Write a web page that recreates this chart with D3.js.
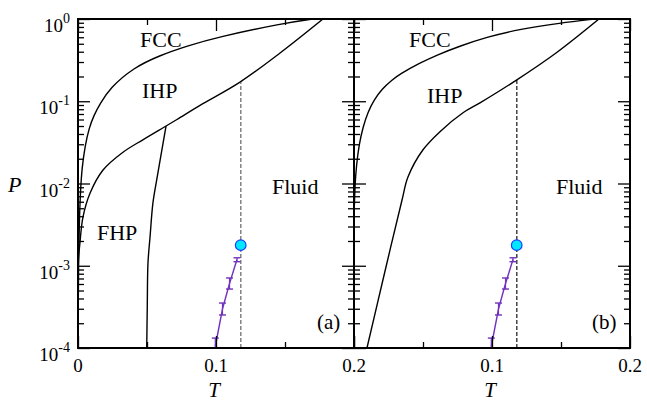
<!DOCTYPE html>
<html>
<head>
<meta charset="utf-8">
<script src="https://cdn.jsdelivr.net/npm/d3@7"></script>
<style>
  body { margin: 0; background: #fff; }
  text { font-family: "Liberation Serif", "Times New Roman", serif; fill: #000; }
</style>
</head>
<body>
<div id="chart"></div>
<script>
  var width = 647,
      height = 405,
      yTop = 19,
      yBot = 348;

  // phase boundaries, [T, P]
  var fccA = [[0.0001, 1.0e-4], [0.0002, 3.8e-4], [0.0004, 1.17e-3], [0.00094, 3.4e-3], [0.0018, 8.3e-3],
              [0.0029, 0.0155], [0.0051, 0.0286], [0.0080, 0.0473], [0.0116, 0.068], [0.0159, 0.0927],
              [0.0232, 0.145], [0.0399, 0.254], [0.059, 0.36], [0.079, 0.47], [0.1007, 0.60],
              [0.1486, 0.89], [0.170, 1.0]];
  var ihpA = [[0.0001, 7.8e-4], [0.0004, 1.23e-3], [0.0014, 1.9e-3], [0.0036, 3.9e-3], [0.0087, 7.6e-3],
              [0.018, 0.0145], [0.0326, 0.024], [0.047, 0.034], [0.0638, 0.050], [0.0717, 0.060],
              [0.0884, 0.089], [0.1174, 0.171], [0.1464, 0.386], [0.1775, 1.0]];
  var fhpA = [[0.0498, 1.0e-4], [0.0502, 3.2e-4], [0.0507, 1.07e-3], [0.0522, 2.24e-3],
              [0.0543, 5.8e-3], [0.0570, 0.0110], [0.0638, 0.050]];
  var fccB = [[0.0003, 5.5e-3], [0.0007, 9.6e-3], [0.0018, 0.0168], [0.0036, 0.0294], [0.0065, 0.0486],
              [0.0101, 0.074], [0.0145, 0.1035], [0.0203, 0.141], [0.0275, 0.181], [0.0333, 0.214],
              [0.0478, 0.292], [0.0601, 0.365], [0.0768, 0.470], [0.0964, 0.604], [0.1203, 0.755],
              [0.1493, 0.894], [0.1746, 1.0]];
  var ihpB = [[0.0094, 1.0e-4], [0.0221, 8.1e-4], [0.0348, 6.3e-3], [0.0391, 0.012], [0.050, 0.0257],
              [0.0623, 0.0427], [0.079, 0.0724], [0.0913, 0.0955], [0.118, 0.182], [0.1464, 0.386],
              [0.1775, 1.0]];

  // liquid-gas coexistence with error bars, and critical point
  var critT  = [0.0995, 0.1047, 0.1098, 0.1152];
  var critP  = [1.05e-4, 2.98e-4, 6.08e-4, 1.19e-3];
  var critLo = [8.3e-5, 2.52e-4, 5.21e-4, 1.12e-3];
  var critHi = [1.32e-4, 3.52e-4, 7.10e-4, 1.25e-3];
  var cpT = 0.1179, cpP = 1.78e-3;
  var dashT = 0.118;
  var dashTopA = 0.172, dashTopB = 0.182;

  var tMajor = [0, 0.1, 0.2],
      tMinor = [0.05, 0.15],
      pExp = [0, -1, -2, -3, -4];

  var panels = [
    {x0: 78, fcc: fccA, ihp: ihpA, fhp: fhpA, dashTop: dashTopA, dashCol: "#555", tag: "(a)", tagX: 317,
     tLabels: [0, 0.1, 0.2],
     labels: [["FCC", 140, 47], ["IHP", 142, 98], ["FHP", 97, 240], ["Fluid", 272, 194]]},
    {x0: 354, fcc: fccB, ihp: ihpB, fhp: null, dashTop: dashTopB, dashCol: "#000", tag: "(b)", tagX: 592,
     tLabels: [0.1, 0.2],
     labels: [["FCC", 409, 47], ["IHP", 427, 103], ["Fluid", 556, 194]]}
  ];

  var svg = d3.select("#chart").append("svg")
    .attr("width", width)
    .attr("height", height);

  var y = d3.scaleLog().domain([1e-4, 1]).range([yBot, yTop]);

  var pMinor = [];
  pExp.forEach(function(e) {
    if (e < 0) for (var k = 2; k <= 9; k++) pMinor.push(k * Math.pow(10, e));
  });

  panels.forEach(function(p, i) {
    var x = d3.scaleLinear().domain([0, 0.2]).range([p.x0, p.x0 + 276]);
    var x1 = x(0.2);
    var g = svg.append("g");

    g.append("clipPath").attr("id", "clip" + i)
      .append("rect")
      .attr("x", p.x0).attr("y", yTop)
      .attr("width", x1 - p.x0).attr("height", yBot - yTop);

    var plot = g.append("g").attr("clip-path", "url(#clip" + i + ")");

    var line = d3.line()
      .x(function(d) { return x(d[0]); })
      .y(function(d) { return y(d[1]); })
      .curve(d3.curveCatmullRom.alpha(0.5));
    var smooth = d3.line()
      .x(function(d) { return x(d[0]); })
      .y(function(d) { return y(d[1]); })
      .curve(d3.curveBasis);

    [[p.fcc, smooth], [p.ihp, line], [p.fhp, line]].forEach(function(c) {
      if (!c[0]) return;
      plot.append("path").datum(c[0])
        .attr("d", c[1])
        .attr("fill", "none")
        .attr("stroke", "#000")
        .attr("stroke-width", 1.4);
    });

    // dashed line at the critical temperature
    plot.append("line")
      .attr("x1", x(dashT)).attr("x2", x(dashT))
      .attr("y1", y(1e-4)).attr("y2", y(p.dashTop))
      .attr("stroke", p.dashCol)
      .attr("stroke-width", 1.1)
      .attr("stroke-dasharray", "4,2");

    var crit = critT.map(function(t, j) { return [t, critP[j]]; });
    plot.append("path").datum(crit)
      .attr("d", d3.line().x(function(d) { return x(d[0]); }).y(function(d) { return y(d[1]); }))
      .attr("fill", "none")
      .attr("stroke", "#7232bd")
      .attr("stroke-width", 1.4);

    critT.forEach(function(t, j) {
      var cx = x(t);
      plot.append("line")
        .attr("x1", cx).attr("x2", cx)
        .attr("y1", y(critLo[j])).attr("y2", y(critHi[j]))
        .attr("stroke", "#7232bd").attr("stroke-width", 1.2);
      [critLo[j], critHi[j]].forEach(function(v) {
        plot.append("line")
          .attr("x1", cx - 3.5).attr("x2", cx + 3.5)
          .attr("y1", y(v)).attr("y2", y(v))
          .attr("stroke", "#7232bd").attr("stroke-width", 1.4);
      });
    });

    plot.append("circle")
      .attr("cx", x(cpT)).attr("cy", y(cpP))
      .attr("r", 5.3)
      .attr("fill", "#00e8ff")
      .attr("stroke", "#1a3cff")
      .attr("stroke-width", 1.2);

    // ticks, all pointing inward
    function yAxis(gen, xpos, vals, size) {
      g.append("g").attr("transform", "translate(" + xpos + ",0)")
        .call(gen(y).tickValues(vals).tickSize(size).tickSizeOuter(0).tickFormat(""))
        .call(function(s) { s.select(".domain").remove(); s.selectAll("line").attr("stroke-width", 1.3); });
    }
    function xAxis(gen, ypos, vals, size) {
      g.append("g").attr("transform", "translate(0," + ypos + ")")
        .call(gen(x).tickValues(vals).tickSize(size).tickSizeOuter(0).tickFormat(""))
        .call(function(s) { s.select(".domain").remove(); s.selectAll("line").attr("stroke-width", 1.3); });
    }
    var majors = pExp.map(function(e) { return Math.pow(10, e); });
    yAxis(d3.axisLeft, p.x0, majors, -12);
    yAxis(d3.axisLeft, p.x0, pMinor, -6);
    yAxis(d3.axisRight, x1, majors, -12);
    yAxis(d3.axisRight, x1, pMinor, -6);
    xAxis(d3.axisBottom, yBot, tMajor, -12);
    xAxis(d3.axisBottom, yBot, tMinor, -6);
    xAxis(d3.axisTop, yTop, tMajor, -12);
    xAxis(d3.axisTop, yTop, tMinor, -6);

    g.append("rect")
      .attr("x", p.x0).attr("y", yTop)
      .attr("width", x1 - p.x0).attr("height", yBot - yTop)
      .attr("fill", "none")
      .attr("stroke", "#000")
      .attr("stroke-width", 2);

    // T tick labels
    g.selectAll(".tl").data(p.tLabels).enter().append("text")
      .attr("x", function(d) { return x(d); })
      .attr("y", 372)
      .attr("text-anchor", "middle")
      .style("font-size", "19px")
      .text(function(d) { return d === 0 ? "0" : d3.format(".1f")(d); });

    g.append("text")
      .attr("x", x(0.1) - 2).attr("y", 397)
      .attr("text-anchor", "middle")
      .style("font-size", "21px")
      .style("font-style", "italic")
      .text("T");

    p.labels.forEach(function(l) {
      g.append("text")
        .attr("x", l[1]).attr("y", l[2])
        .style("font-size", "22px")
        .text(l[0]);
    });

    g.append("text")
      .attr("x", p.tagX).attr("y", 329)
      .style("font-size", "21px")
      .text(p.tag);
  });

  // P tick labels (left panel only)
  pExp.forEach(function(e) {
    var t = svg.append("text")
      .attr("x", 70).attr("y", y(Math.pow(10, e)) + 13)
      .attr("text-anchor", "end")
      .style("font-size", "19px");
    t.append("tspan").text("10");
    t.append("tspan").attr("dy", -9).style("font-size", "14px").text(String(e));
  });

  svg.append("text")
    .attr("x", 8).attr("y", 192)
    .style("font-size", "22px")
    .style("font-style", "italic")
    .text("P");
</script>
</body>
</html>
